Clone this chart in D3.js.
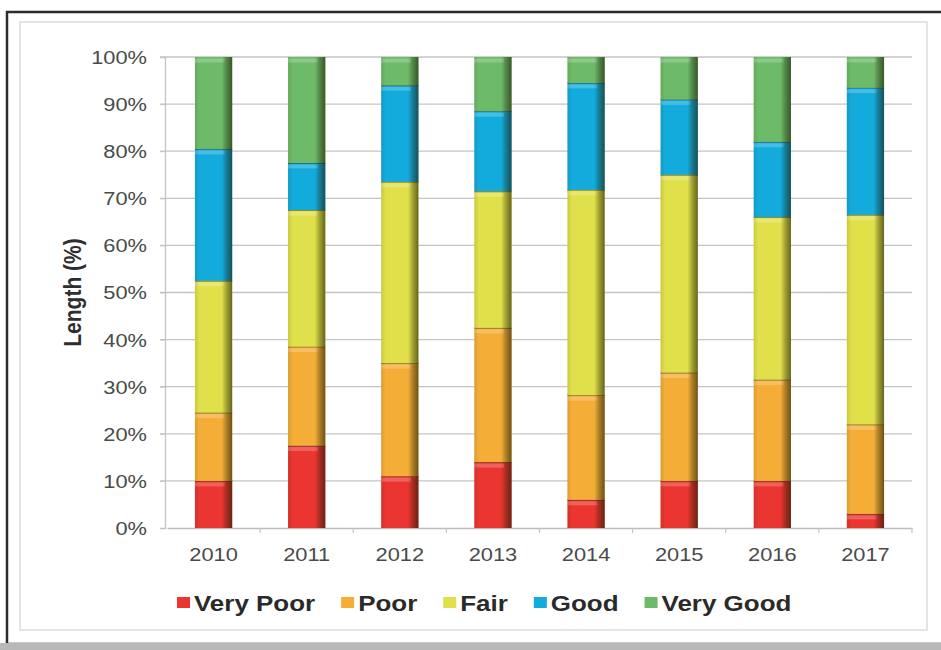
<!DOCTYPE html>
<html>
<head>
<meta charset="utf-8">
<script src="https://cdn.jsdelivr.net/npm/d3@7/dist/d3.min.js"></script>
<style>
  html, body { margin: 0; padding: 0; background: #fff; }
  svg { display: block; }
  text { font-family: "Liberation Sans", Arial, sans-serif; }
</style>
</head>
<body>
<svg id="chart" width="941" height="650"></svg>
<script>
// Condition of network length by year (% of total)
const categories = ["2010", "2011", "2012", "2013", "2014", "2015", "2016", "2017"];
const seriesNames = ["Very Poor", "Poor", "Fair", "Good", "Very Good"];
const veryPoor = [10, 17.5, 11, 14, 6, 10, 10, 3];
const poor     = [14.5, 21, 24, 28.5, 22.2, 23, 21.5, 19];
const fair     = [28, 29, 38.5, 29, 43.6, 42, 34.5, 44.5];
const good     = [28, 10, 20.5, 17, 22.7, 16, 16, 27];
const veryGood = [19.5, 22.5, 6, 11.5, 5.5, 9, 18, 6.5];
const yTicks = [0, 10, 20, 30, 40, 50, 60, 70, 80, 90, 100];
const colors = ["#ea3530", "#f4ae38", "#e0e04a", "#13abdc", "#6dbb69"];

const rows = categories.map((c, i) => ({
  year: c,
  "Very Poor": veryPoor[i],
  "Poor": poor[i],
  "Fair": fair[i],
  "Good": good[i],
  "Very Good": veryGood[i]
}));

const svg = d3.select("#chart");
const W = 941, H = 650;
const plot = { left: 165, right: 912, top: 57, bottom: 528 };
const SX = 1.18; // horizontal text stretch

// outer frame and inner panel
svg.append("rect").attr("x", 7).attr("y", 12).attr("width", W + 10).attr("height", 632)
  .attr("fill", "#fff").attr("stroke", "#2b2b2b").attr("stroke-width", 2.5);
svg.append("rect").attr("x", 0).attr("y", 643).attr("width", W).attr("height", 7).attr("fill", "#b8b8b8");
svg.append("rect").attr("x", 20).attr("y", 22).attr("width", 907).attr("height", 608)
  .attr("fill", "#fff").attr("stroke", "#dcdcdc").attr("stroke-width", 1.5);

const defs = svg.append("defs");
const shade = defs.append("linearGradient").attr("id", "barShade")
  .attr("x1", "0%").attr("x2", "100%").attr("y1", "0%").attr("y2", "0%");
[[0, 0.12], [0.12, 0], [0.72, 0], [0.84, 0.3], [1, 0.62]].forEach(([o, a]) =>
  shade.append("stop").attr("offset", o).attr("stop-color", "#1a1a00").attr("stop-opacity", a));

const x = d3.scaleBand().domain(categories).range([plot.left + 2, plot.right]).paddingInner(0.6).paddingOuter(0.3);
const y = d3.scaleLinear().domain([0, 100]).range([plot.bottom, plot.top]);

// gridlines
svg.append("g").selectAll("line").data(yTicks.filter(t => t > 0)).join("line")
  .attr("x1", plot.left - 5).attr("x2", plot.right)
  .attr("y1", d => y(d)).attr("y2", d => y(d))
  .attr("stroke", "#c4c4c4").attr("stroke-width", 1.3);

// y axis
const yAxis = svg.append("g").attr("transform", `translate(${plot.left},0)`)
  .call(d3.axisLeft(y).tickValues(yTicks).tickSize(5).tickFormat(d => d + "%"));
yAxis.select(".domain").attr("stroke", "#c4c4c4").attr("stroke-width", 1.3);
yAxis.selectAll(".tick line").attr("stroke", "#c4c4c4");
yAxis.selectAll(".tick text")
  .attr("x", null).attr("dy", null)
  .attr("font-size", 18.5).attr("fill", "#4a4a4a")
  .attr("text-anchor", "end").attr("dominant-baseline", "central")
  .attr("transform", `translate(-18,0) scale(${SX},1)`);

// x axis
const xAxis = svg.append("g").attr("transform", `translate(0,${plot.bottom})`)
  .call(d3.axisBottom(x).tickSize(0).tickPadding(0));
xAxis.select(".domain").attr("stroke", "#bdbdbd").attr("stroke-width", 1.5);
xAxis.selectAll(".tick text")
  .attr("y", null).attr("dy", null)
  .attr("font-size", 18.5).attr("fill", "#4a4a4a")
  .attr("dominant-baseline", "central")
  .attr("transform", `translate(0,27) scale(${SX},1)`);
// small marks between categories
const step = x.step();
const firstEdge = x(categories[0]) - step * 0.3;
svg.append("g").selectAll("line").data(d3.range(1, categories.length + 1)).join("line")
  .attr("x1", i => firstEdge + i * step).attr("x2", i => firstEdge + i * step)
  .attr("y1", plot.bottom).attr("y2", plot.bottom + 5)
  .attr("stroke", "#c4c4c4").attr("stroke-width", 1.2);

// stacked bars
const stacked = d3.stack().keys(seriesNames)(rows);
const layers = svg.append("g").selectAll("g").data(stacked).join("g")
  .attr("fill", (d, i) => colors[i]);
layers.selectAll("rect.seg").data(d => d).join("rect").attr("class", "seg")
  .attr("x", d => x(d.data.year)).attr("width", x.bandwidth())
  .attr("y", d => y(d[1])).attr("height", d => y(d[0]) - y(d[1]));
// lighter band under each segment top
layers.selectAll("rect.hi").data(d => d).join("rect").attr("class", "hi")
  .attr("x", d => x(d.data.year)).attr("width", x.bandwidth() * 0.8)
  .attr("y", d => y(d[1]) + 1.5).attr("height", d => Math.min(4, y(d[0]) - y(d[1])))
  .attr("fill", "#fff").attr("fill-opacity", 0.22);
// dark seam on each segment top
layers.selectAll("line.seam").data(d => d.filter(p => p[1] < 100)).join("line").attr("class", "seam")
  .attr("x1", d => x(d.data.year)).attr("x2", d => x(d.data.year) + x.bandwidth())
  .attr("y1", d => y(d[1])).attr("y2", d => y(d[1]))
  .attr("stroke", "#3a3a10").attr("stroke-opacity", 0.5).attr("stroke-width", 1.8);
// side shading of the columns
svg.append("g").selectAll("rect").data(categories).join("rect")
  .attr("x", d => x(d)).attr("width", x.bandwidth())
  .attr("y", y(100)).attr("height", y(0) - y(100))
  .attr("fill", "url(#barShade)");

// y axis title
svg.append("text")
  .attr("transform", `translate(72,${(plot.top + plot.bottom) / 2}) rotate(-90) scale(1,${SX})`)
  .attr("text-anchor", "middle").attr("dominant-baseline", "central")
  .attr("font-size", 21).attr("font-weight", "bold").attr("fill", "#2e2e2e")
  .text("Length (%)");

// legend
const legend = svg.append("g").attr("transform", "translate(177,603)");
let lx = 0;
seriesNames.forEach((name, i) => {
  const g = legend.append("g").attr("transform", `translate(${lx},0)`);
  g.append("rect").attr("x", 0).attr("y", -6).attr("width", 13).attr("height", 11).attr("fill", colors[i]);
  const t = g.append("text").attr("transform", `translate(17,0) scale(${SX},1)`)
    .attr("dominant-baseline", "central")
    .attr("font-size", 22).attr("font-weight", "bold").attr("fill", "#2a2a2a")
    .text(name);
  lx += 17 + t.node().getComputedTextLength() * SX + 26;
});
</script>
</body>
</html>
